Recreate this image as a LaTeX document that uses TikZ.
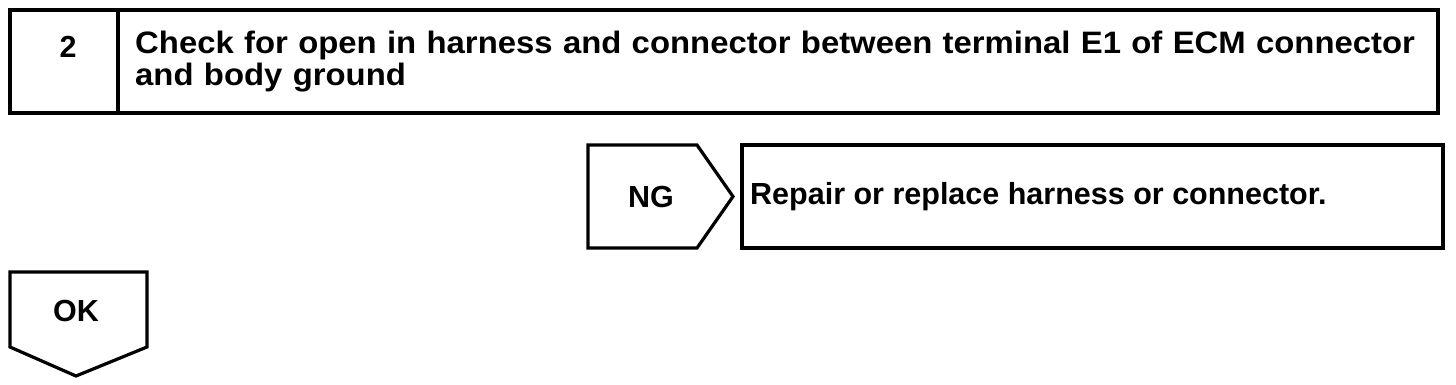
\documentclass[tikz,border=0pt]{standalone}
\usepackage{fontspec}
\setmainfont{Liberation Sans}
\newfontfamily\widefont[FakeStretch=1.06]{Liberation Sans}
\begin{document}
\begin{tikzpicture}[x=1pt,y=-1pt,
  lw/.style={line width=3.2pt, line join=miter},
  txt/.style={font=\fontsize{30.5}{29}\selectfont\bfseries, inner sep=0pt},
  wtxt/.style={font=\widefont\fontsize{31}{32}\selectfont\bfseries, inner sep=0pt},
  box/.style={lw, draw, rectangle, inner sep=0pt}]
\useasboundingbox (0,0) rectangle (1456,384);
% top step box
\node[box, minimum width=108pt, minimum height=103pt] (num) at (64,61.5) {};
\node[box, minimum width=1320pt, minimum height=103pt] (check) at (778,61.5) {};
\node[txt] (numtxt) at (68,47) {2};
\node[wtxt, text width=1300pt, align=left, anchor=west] (checktxt) at (135,62)
  {Check for open in harness and connector between terminal E1 of ECM connector\\and body ground};
% NG arrow
\coordinate (ngA) at (588,145);
\coordinate (ngB) at (697,145);
\coordinate (ngC) at (733,196.5);
\coordinate (ngD) at (697,248);
\coordinate (ngE) at (588,248);
\draw[lw] (ngA) -- (ngB) -- (ngC) -- (ngD) -- (ngE) -- cycle;
\node[txt] (ng) at (651,197) {NG};
% repair box
\node[box, minimum width=701pt, minimum height=103pt] (repair) at (1092.5,196.5) {};
\node[txt, anchor=west] (repairtxt) at (750,197) {Repair or replace harness or connector.};
% OK arrow
\coordinate (okA) at (10,272);
\coordinate (okB) at (147,272);
\coordinate (okC) at (147,347);
\coordinate (okD) at (76,376);
\coordinate (okE) at (10,347);
\draw[lw] (okA) -- (okB) -- (okC) -- (okD) -- (okE) -- cycle;
\node[txt] (ok) at (76,311) {OK};
\end{tikzpicture}
\end{document}
